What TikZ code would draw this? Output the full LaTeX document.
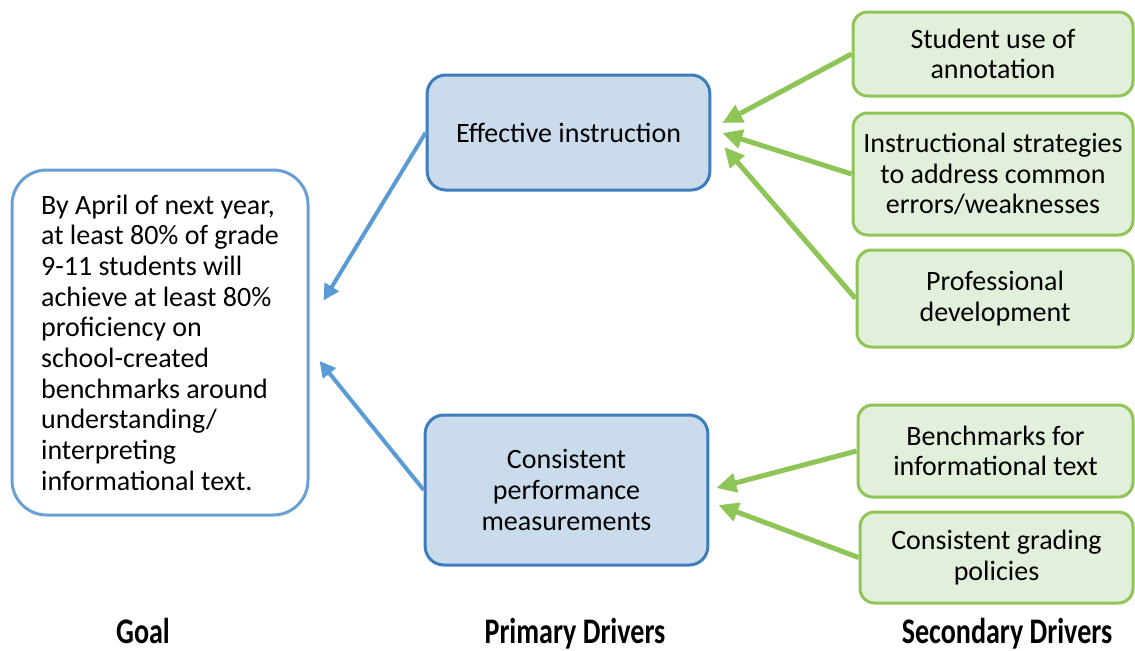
\documentclass[tikz,border=0pt]{standalone}
\usepackage{fontspec}
\setmainfont{Carlito}
\usepackage{graphicx}
\usetikzlibrary{arrows.meta}

\definecolor{goalblue}{RGB}{104,160,212}
\definecolor{primborder}{RGB}{62,124,188}
\definecolor{primfill}{RGB}{202,220,236}
\definecolor{arrowblue}{RGB}{91,155,213}
\definecolor{secgreen}{RGB}{143,196,86}
\definecolor{secfill}{RGB}{226,239,218}

\newcommand{\bodyfont}{\fontsize{21pt}{23pt}\selectfont}
\newcommand{\headfont}{\fontsize{27pt}{29pt}\selectfont\bfseries}
\newcommand{\squeeze}[1]{\scalebox{0.78}[1]{#1}}

\begin{document}
\begin{tikzpicture}[x=0.75pt, y=-0.75pt,
    goalbox/.style={draw=goalblue, line width=2.25pt, rounded corners=26pt, fill=white, minimum width=222pt, minimum height=258.75pt, align=left, font=\bodyfont},
    primbox/.style={draw=primborder, fill=primfill, line width=2.25pt, rounded corners=14pt, minimum width=212pt, align=center, font=\bodyfont},
    secbox/.style={draw=secgreen, fill=secfill, line width=2.25pt, rounded corners=11pt, align=center, font=\bodyfont},
    bluearrow/.style={draw=arrowblue, line width=3pt, -{Triangle[length=12pt,width=12pt]}},
    greenarrow/.style={draw=secgreen, line width=3.75pt, -{Triangle[length=15pt,width=14pt]}},
    colhead/.style={anchor=base, font=\headfont}]
    \useasboundingbox (0,0) rectangle (1135,650);
    % goal
    \node [goalbox] (goal) at (160,342.5) {By April of next year,\\at least 80\% of grade\\9-11 students will\\achieve at least 80\%\\proficiency on\\school-created\\benchmarks around\\understanding/\\interpreting\\informational text.};
    % primary drivers
    \node [primbox, minimum height=86.25pt] (instr) at (568.5,132.5) {Effective instruction};
    \node [primbox, minimum height=112.5pt] (measure) at (566.5,490) {Consistent\\performance\\measurements};
    % secondary drivers
    \node [secbox, minimum width=210pt, minimum height=63pt] (annot) at (993,54) {Student use of\\annotation};
    \node [secbox, minimum width=210pt, minimum height=91.5pt] (strat) at (993,174) {Instructional strategies\\to address common\\errors/weaknesses};
    \node [secbox, minimum width=207pt, minimum height=72.75pt] (profdev) at (995,298.5) {Professional\\development};
    \node [secbox, minimum width=206.25pt, minimum height=69pt] (bench) at (995.5,451) {Benchmarks for\\informational text};
    \node [secbox, minimum width=204.75pt, minimum height=68.25pt] (grading) at (996.5,557.5) {Consistent grading\\policies};
    \draw[bluearrow] (instr.west) -- ([shift={(14,-42)}]goal.east);
    \draw[bluearrow] (measure.west) -- ([shift={(10,18.5)}]goal.east);
    \draw[greenarrow] (annot.west) -- ([shift={(11,-9.5)}]instr.east);
    \draw[greenarrow] (strat.west) -- ([shift={(11,0.5)}]instr.east);
    \draw[greenarrow] (profdev.west) -- ([shift={(13,14.5)}]instr.east);
    \draw[greenarrow] (bench.west) -- ([shift={(7,-2)}]measure.east);
    \draw[greenarrow] (grading.west) -- ([shift={(9,15)}]measure.east);
    % column titles
    \node [colhead] (goalhead) at (143,643) {\squeeze{Goal}};
    \node [colhead] (primhead) at (575,643) {\squeeze{Primary Drivers}};
    \node [colhead] (sechead) at (1007,643) {\squeeze{Secondary Drivers}};
\end{tikzpicture}
\end{document}
